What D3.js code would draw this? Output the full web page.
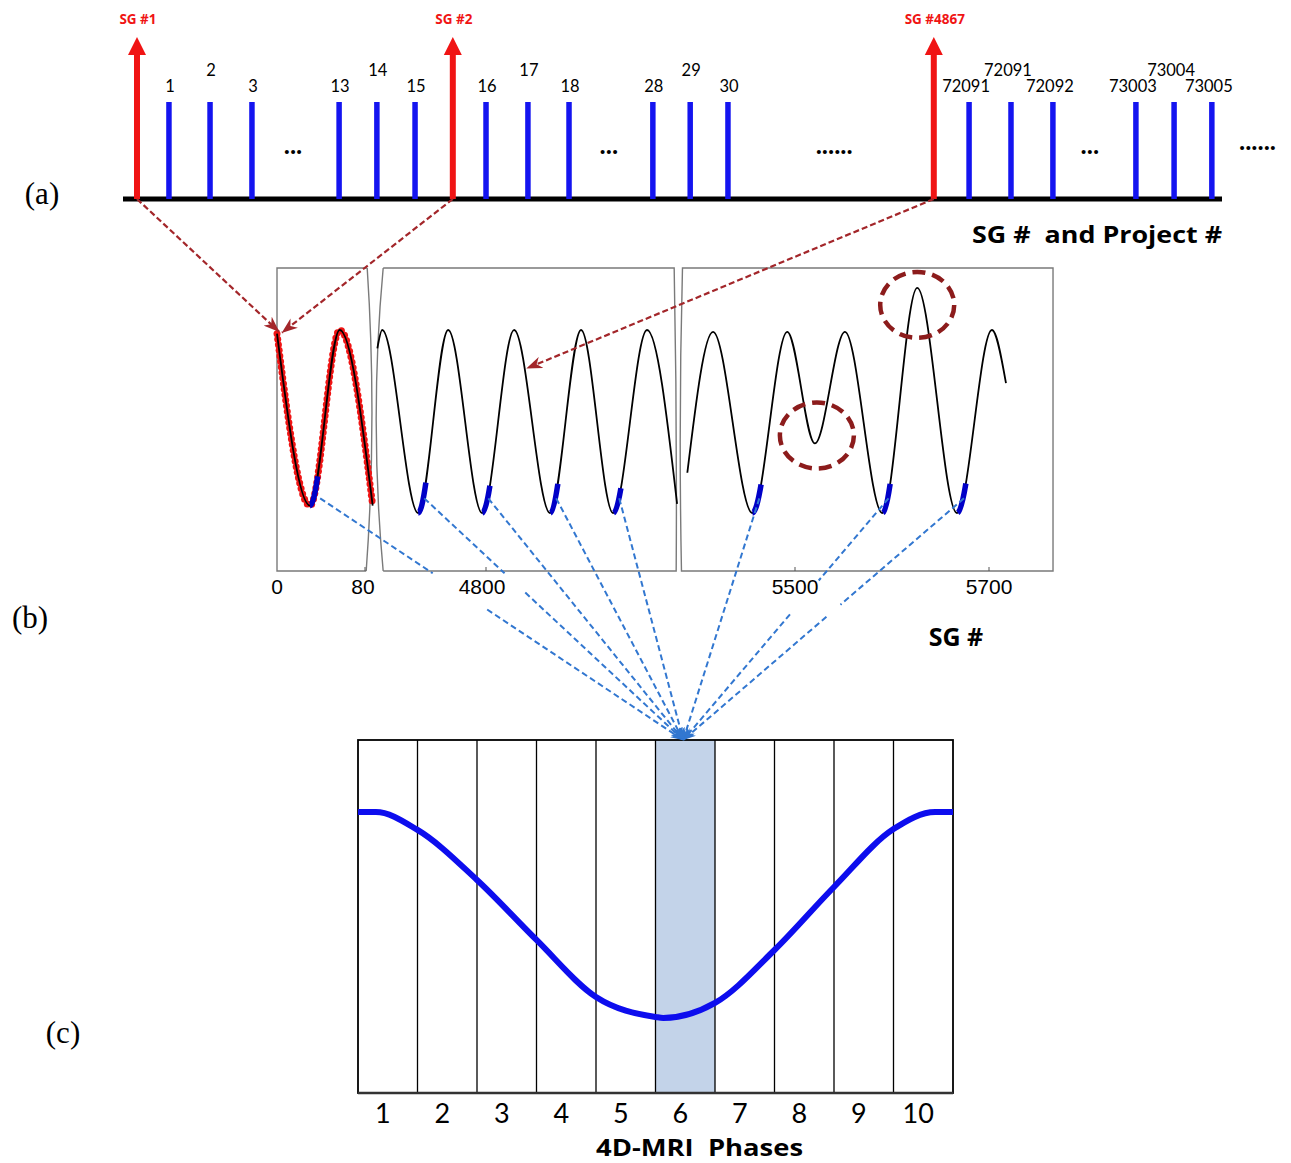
<!DOCTYPE html>
<html><head><meta charset="utf-8">
<script src="https://cdn.jsdelivr.net/npm/d3@7"></script>
<style>body{margin:0;background:#fff} svg{display:block} text{white-space:pre}</style>
</head><body><svg id="chart" width="1291" height="1163"></svg>
<script>
// ================= DATA =================
// (a) acquisition timeline (t = acquisition order, arbitrary units)
const sgLabels = ["SG #1", "SG #2", "SG #4867"];
const sgTimes = [0, 7.61, 19.2];
const projLabels = ["1","2","3","13","14","15","16","17","18","28","29","30","72091","72091","72092","73003","73004","73005"];
const projTimes = [0.77,1.76,2.77,4.87,5.78,6.70,8.41,9.42,10.41,12.43,13.33,14.24,20.05,21.06,22.07,24.07,24.99,25.9];
const ellipsisTimes = [3.76, 11.37, 16.8, 22.96, 27.0];
const ellipsisLabels = ["...", "...", "......", "...", "......"];

// (b) self-gating signal, three broken-axis windows: [SG #, amplitude]
const boxDomains = [[0, 82], [4694, 4994], [5384, 5766]];
const sgTicks = [[0, 80], [4800], [5500, 5700]];
const signal1 = [[0,0.98],[30,0.04],[57,1.0],[87,0.04]];
const signal2 = [[4688,0.9],[4693,1.0],[4730,0],[4761,1.0],[4796,0],[4829,1.0],[4866,0],[4898,1.0],[4931,0],[4966,1.0],[4997,0.05]];
const signal3 = [[5389,0.22],[5415.5,0.99],[5456,0],[5492,0.99],[5520.5,0.38],[5551.5,0.99],[5590,0],[5626,1.23],[5667,0],[5703,1.0],[5717.5,0.71]];
// samples selected for phase 6: [box index, SG start, SG end]
const selected = [[0,30,37],[1,4730,4738],[1,4796,4804],[1,4866,4874],[1,4931,4939],[2,5456,5465],[2,5590,5598],[2,5667,5676]];
// gaps in the dashed connectors (fraction of length)
const connectorGaps = [[0.31,0.46],[0.31,0.39],null,null,null,null,[0.34,0.48],[0.44,0.49]];
// irregular breathing cycles circled: [box index, SG #, amplitude]
const anomalies = [[2,5520.5,0.38],[2,5626,1.23]];

// (c) 4D-MRI phase bins and the averaged respiratory curve
const phases = [1,2,3,4,5,6,7,8,9,10];
const selectedPhase = 6;
const phaseCurvePos = [0,0.3,1,2,3,4,5,5.13,6,7,8,9,9.7,10];
const phaseCurveAmp = [1.0,1.0,0.913,0.67,0.379,0.102,0.005,0,0.073,0.33,0.636,0.917,1.0,1.0];

// ================= DRAW =================
const svg = d3.select("#chart");
svg.append("rect").attr("width",1291).attr("height",1163).attr("fill","#fff");
const sans = "Lato, 'Open Sans', sans-serif";
const bold = "'Open Sans', Lato, sans-serif";
const RED = "#f01414", BLUE = "#1414f0", DARKRED = "#a3262a", CIRC = "#8c1c1c", LBLUE = "#3277d0";

const defs = svg.append("defs");
function marker(id, color, w, h) {
  defs.append("marker").attr("id", id).attr("viewBox", `0 0 ${w} ${h}`)
    .attr("markerUnits", "userSpaceOnUse").attr("markerWidth", w).attr("markerHeight", h)
    .attr("refX", w - 0.5).attr("refY", h / 2).attr("orient", "auto")
    .append("path").attr("d", `M0,0 L${w},${h/2} L0,${h} L${w*0.3},${h/2} Z`).attr("fill", color);
}
marker("arrRed", DARKRED, 16, 12);
marker("arrBlue", LBLUE, 13, 10);

// panel labels
const serif = "'Liberation Serif', 'DejaVu Serif', serif";
[["(a)",42,204],["(b)",30,628],["(c)",63,1043]].forEach(([t,x,y]) =>
  svg.append("text").attr("x",x).attr("y",y).attr("text-anchor","middle")
    .attr("font-family",serif).attr("font-size",31).text(t));

// ---------- (a) ----------
const tx = d3.scaleLinear().domain([0, 26]).range([137, 1216]);
const baseY = 199, barTop = 102, arrowBase = 55, arrowTip = 37;
const gA = svg.append("g");
gA.append("line").attr("x1",123).attr("x2",1222).attr("y1",baseY).attr("y2",baseY)
  .attr("stroke","#000").attr("stroke-width",5);
gA.selectAll(".proj").data(projTimes).join("line")
  .attr("x1", d => tx(d)).attr("x2", d => tx(d)).attr("y1", barTop).attr("y2", baseY)
  .attr("stroke", BLUE).attr("stroke-width", 5.5);
gA.selectAll(".projlab").data(projLabels).join("text")
  .attr("x", (d,i) => tx(projTimes[i]) + (i >= 12 ? -3 : 1))
  .attr("y", (d,i) => i % 3 === 1 ? 76 : 92)
  .attr("text-anchor","middle").attr("font-family",sans).attr("font-size",16.5).text(d => d);
sgTimes.forEach((t,i) => {
  const x = tx(t);
  gA.append("line").attr("x1",x).attr("x2",x).attr("y1",baseY).attr("y2",arrowBase)
    .attr("stroke",RED).attr("stroke-width",6);
  gA.append("path").attr("d",`M${x-9},${arrowBase} L${x},${arrowTip} L${x+9},${arrowBase} Z`).attr("fill",RED);
  gA.append("text").attr("x",x+1).attr("y",24).attr("text-anchor","middle")
    .attr("font-family",bold).attr("font-weight","bold").attr("font-size",13.5).attr("fill",RED).text(sgLabels[i]);
});
gA.selectAll(".ell").data(ellipsisTimes).join("text")
  .attr("x", d => tx(d)).attr("y", (d,i) => i === 4 ? 150 : 154)
  .attr("text-anchor","middle").attr("font-family",sans).attr("font-weight","bold")
  .attr("font-size",26).text((d,i) => ellipsisLabels[i]);
gA.append("text").attr("x",972).attr("y",243)
  .attr("font-family",bold).attr("font-weight","bold").attr("font-size",24)
  .attr("textLength",250).attr("lengthAdjust","spacingAndGlyphs").text("SG #  and Project #");

// ---------- (b) ----------
const xs = [
  d3.scaleLinear().domain([0, 80]).range([277, 365]),
  d3.scaleLinear().domain([4800, 5000]).range([486, 680]),
  d3.scaleLinear().domain([5500, 5700]).range([795, 989])
];
const ys = d3.scaleLinear().domain([0, 1]).range([513, 330]);
const bTop = 268, bBot = 571;
const gB = svg.append("g");
const frame = {stroke:"#7a7a7a", "stroke-width":1.4, fill:"none"};
function styl(sel, o){ Object.entries(o).forEach(([k,v]) => sel.attr(k,v)); return sel; }
const L = boxDomains.map((d,i) => xs[i](d[0])), R = boxDomains.map((d,i) => xs[i](d[1]));
styl(gB.append("path").attr("d",
  `M${R[0]},${bTop} L${L[0]},${bTop} L${L[0]},${bBot} L${R[0]-1},${bBot} M${R[0]},${bTop} Q${R[0]+10},${(bTop+bBot)/2} ${R[0]-1},${bBot}`), frame);
styl(gB.append("path").attr("d",
  `M${L[1]},${bTop} Q${L[1]-14},${(bTop+bBot)/2} ${L[1]},${bBot} M${L[1]},${bTop} L${R[1]},${bTop} Q${R[1]+3},${(bTop+bBot)/2} ${R[1]+2},${bBot} L${L[1]},${bBot}`), frame);
styl(gB.append("path").attr("d",
  `M${L[2]},${bTop} Q${L[2]-4},${(bTop+bBot)/2} ${L[2]-1},${bBot} L${R[2]},${bBot} L${R[2]},${bTop} Z`), frame);

sgTicks.forEach((ticks,i) => ticks.forEach(t => {
  const x = xs[i](t);
  if (t !== 0) gB.append("line").attr("x1",x).attr("x2",x).attr("y1",bBot).attr("y2",bBot-4).attr("stroke","#555").attr("stroke-width",1);
  gB.append("text").attr("x", x - (t===80?2:0) - (t===4800?4:0)).attr("y",594).attr("text-anchor","middle")
    .attr("font-family","'Liberation Sans', Arial, sans-serif").attr("font-size",21).text(t);
}));
gB.append("text").attr("x",956).attr("y",646).attr("text-anchor","middle")
  .attr("font-family",bold).attr("font-weight","bold").attr("font-size",25).text("SG #");

const signals = [signal1, signal2, signal3];
const lineGen = i => d3.line().x(d => xs[i](d[0])).y(d => ys(d[1])).curve(d3.curveMonotoneX);
// red sampled dots along the first window
const redPath = gB.append("path").attr("d", lineGen(0)(signal1)).attr("fill","none").attr("stroke","none");
const node = redPath.node(), totalLen = node.getTotalLength();
const dotPts = d3.range(0, totalLen, 5.6).map(l => node.getPointAtLength(l));
gB.selectAll(".rdot").data(dotPts).join("circle")
  .attr("cx", d => d.x).attr("cy", d => d.y).attr("r", 3.5).attr("fill", RED);
const sigPaths = signals.map((s,i) =>
  gB.append("path").attr("d", lineGen(i)(s)).attr("fill","none").attr("stroke","#000").attr("stroke-width",1.8));
// length along a path at which it reaches screen x (paths are monotone in x)
function lenAtX(nd, x) {
  let lo = 0, hi = nd.getTotalLength();
  for (let k = 0; k < 40; k++) { const m = (lo + hi) / 2; if (nd.getPointAtLength(m).x < x) lo = m; else hi = m; }
  return lo;
}
// selected (blue) portions of the signal
selected.forEach(([b,s0,s1]) => {
  const nd = sigPaths[b].node(), tot = nd.getTotalLength();
  const l0 = lenAtX(nd, xs[b](s0)), l1 = lenAtX(nd, xs[b](s1));
  gB.append("path").attr("d", lineGen(b)(signals[b])).attr("fill","none")
    .attr("stroke","#0000c8").attr("stroke-width",5.5)
    .attr("stroke-dasharray", `0 ${l0} ${l1 - l0} ${tot}`);
});
// anomaly circles
anomalies.forEach(([b,s,a],k) => {
  gB.append("ellipse").attr("cx", xs[b](s) + (k===0?2:0)).attr("cy", ys(a) + (k===0?-8:17))
    .attr("rx",37).attr("ry",33).attr("fill","none").attr("stroke",CIRC)
    .attr("stroke-width",4.5).attr("stroke-dasharray","13 7");
});

// dark red connectors from SG readouts to the signal
const sigStart = [xs[0](signal1[0][0]) + 2, ys(signal1[0][1]) - 2];
const midTarget = [xs[1](4842), ys(0.79)];
const redConn = [[tx(sgTimes[0]), baseY, sigStart[0], sigStart[1]],
                 [tx(sgTimes[1]), baseY, sigStart[0] + 3, sigStart[1] + 1],
                 [tx(sgTimes[2]), baseY, midTarget[0], midTarget[1]]];
redConn.forEach(([x1,y1,x2,y2]) => svg.append("line").attr("x1",x1).attr("y1",y1).attr("x2",x2).attr("y2",y2)
  .attr("stroke",DARKRED).attr("stroke-width",2.2).attr("stroke-dasharray","6 3").attr("marker-end","url(#arrRed)"));

// ---------- (c) ----------
const cL = 358, cR = 953, cT = 740, cB = 1093;
const band = d3.scaleBand().domain(phases).range([cL, cR]).padding(0);
const px = d3.scaleLinear().domain([0, 10]).range([cL, cR]);
const py = d3.scaleLinear().domain([0, 1]).range([1018, 812]);
const gC = svg.append("g");
gC.append("rect").attr("x", band(selectedPhase)).attr("y", cT).attr("width", band.bandwidth()).attr("height", cB - cT)
  .attr("fill","#c3d3e9");
gC.selectAll(".vl").data(phases.slice(1)).join("line")
  .attr("x1", d => band(d)).attr("x2", d => band(d)).attr("y1", cT).attr("y2", cB)
  .attr("stroke","#000").attr("stroke-width",1.3);
gC.append("rect").attr("x",cL).attr("y",cT).attr("width",cR-cL).attr("height",cB-cT)
  .attr("fill","none").attr("stroke","#000").attr("stroke-width",1.8);
gC.append("line").attr("x1",cL).attr("x2",cR).attr("y1",cB).attr("y2",cB).attr("stroke","#333").attr("stroke-width",2.5);
gC.append("path").datum(phaseCurvePos.map((p,i) => [p, phaseCurveAmp[i]]))
  .attr("d", d3.line().x(d => px(d[0])).y(d => py(d[1])).curve(d3.curveMonotoneX))
  .attr("fill","none").attr("stroke","#0d0dee").attr("stroke-width",6);
gC.selectAll(".pl").data(phases).join("text")
  .attr("x", d => band(d) + band.bandwidth()/2 - 5).attr("y", 1123).attr("text-anchor","middle")
  .attr("font-family",sans).attr("font-size",27).text(d => d);
gC.append("text").attr("x",596).attr("y",1156)
  .attr("font-family",bold).attr("font-weight","bold").attr("font-size",23)
  .attr("textLength",207).attr("lengthAdjust","spacingAndGlyphs").text("4D-MRI  Phases");

// blue dashed connectors: selected samples -> phase bin
const target = [band(selectedPhase) + band.bandwidth()/2 - 2, cT];
selected.forEach(([b,s0,s1],k) => {
  const sx = xs[b](s0 + 0.8*(s1 - s0)) + (k===0?4:0), sy = ys(0.08);
  const P = t => [sx + (target[0]-sx)*t, sy + (target[1]-sy)*t];
  const gap = connectorGaps[k];
  const segs = gap ? [[0,gap[0]],[gap[1],1]] : [[0,1]];
  segs.forEach(([a,c]) => {
    const p0 = P(a), p1 = P(c);
    svg.append("line").attr("x1",p0[0]).attr("y1",p0[1]).attr("x2",p1[0]).attr("y2",p1[1])
      .attr("stroke",LBLUE).attr("stroke-width",2).attr("stroke-dasharray","6 3.5")
      .attr("marker-end", c === 1 ? "url(#arrBlue)" : null);
  });
});
</script></body></html>
